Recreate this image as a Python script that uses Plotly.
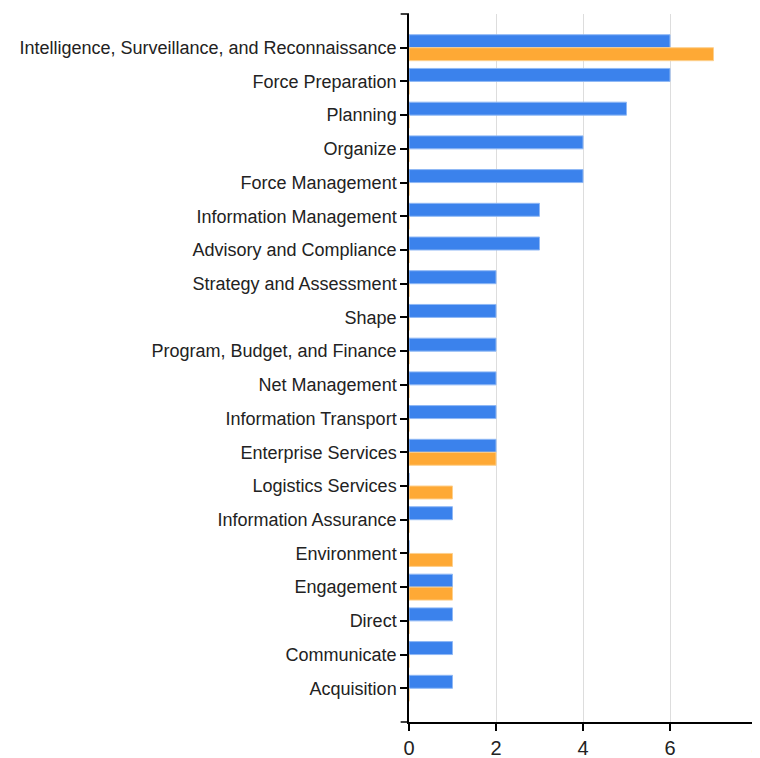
import plotly.graph_objects as go

categories = [
    "Intelligence, Surveillance, and Reconnaissance",
    "Force Preparation",
    "Planning",
    "Organize",
    "Force Management",
    "Information Management",
    "Advisory and Compliance",
    "Strategy and Assessment",
    "Shape",
    "Program, Budget, and Finance",
    "Net Management",
    "Information Transport",
    "Enterprise Services",
    "Logistics Services",
    "Information Assurance",
    "Environment",
    "Engagement",
    "Direct",
    "Communicate",
    "Acquisition",
]
blue_values = [6, 6, 5, 4, 4, 3, 3, 2, 2, 2, 2, 2, 2, 0, 1, 0, 1, 1, 1, 1]
orange_values = [7, 0, 0, 0, 0, 0, 0, 0, 0, 0, 0, 0, 2, 1, 0, 1, 1, 0, 0, 0]
x_ticks = [0, 2, 4, 6, 8]

BLUE = "#3b82ec"
ORANGE = "#fea935"

fig = go.Figure()
fig.add_trace(go.Bar(
    y=categories, x=blue_values, orientation="h",
    marker=dict(color=BLUE, line=dict(color="#8fb8f5", width=1)),
    hoverinfo="x+y", showlegend=False,
))
fig.add_trace(go.Bar(
    y=categories, x=orange_values, orientation="h",
    marker=dict(color=ORANGE, line=dict(color="#fdd08e", width=1)),
    hoverinfo="x+y", showlegend=False,
))

# page body has an 8px default margin; figure sized to fit the 760x758 window
fig.update_layout(
    width=752, height=750,
    margin=dict(l=401, r=3, t=6, b=36),
    plot_bgcolor="white", paper_bgcolor="white",
    barmode="group", bargap=0.23, bargroupgap=0,
    font=dict(family="Arial, Liberation Sans, sans-serif", color="#222222", size=18),
    xaxis=dict(
        range=[0, 8], tickvals=x_ticks, showgrid=True, gridcolor="#dddddd", gridwidth=1,
        showline=True, linecolor="black", linewidth=1.5,
        ticks="outside", ticklen=7, tickcolor="black", tickwidth=1.5,
        tickfont=dict(size=20, color="#222222"), zeroline=False, fixedrange=True,
        automargin=False, ticklabeloverflow="allow",
    ),
    yaxis=dict(
        type="category", range=[len(categories), -1],
        showline=True, linecolor="black", linewidth=1.5,
        ticks="outside", ticklen=7, tickcolor="black", tickwidth=1.5,
        tickfont=dict(size=18, color="#222222"), showgrid=False, fixedrange=True,
        automargin=False, ticklabelstandoff=0,
    ),
    shapes=[
        dict(type="line", xref="paper", yref="paper", x0=-0.024, x1=0, y0=1, y1=1,
             line=dict(color="black", width=1.5)),
        dict(type="line", xref="paper", yref="paper", x0=-0.024, x1=0, y0=0, y1=0,
             line=dict(color="black", width=1.5)),
        dict(type="line", xref="x", yref="paper", x0=x_ticks[-1], x1=x_ticks[-1], y0=0, y1=1,
             layer="below", line=dict(color="#dddddd", width=1)),
    ],
)

fig.write_html("out.html")
